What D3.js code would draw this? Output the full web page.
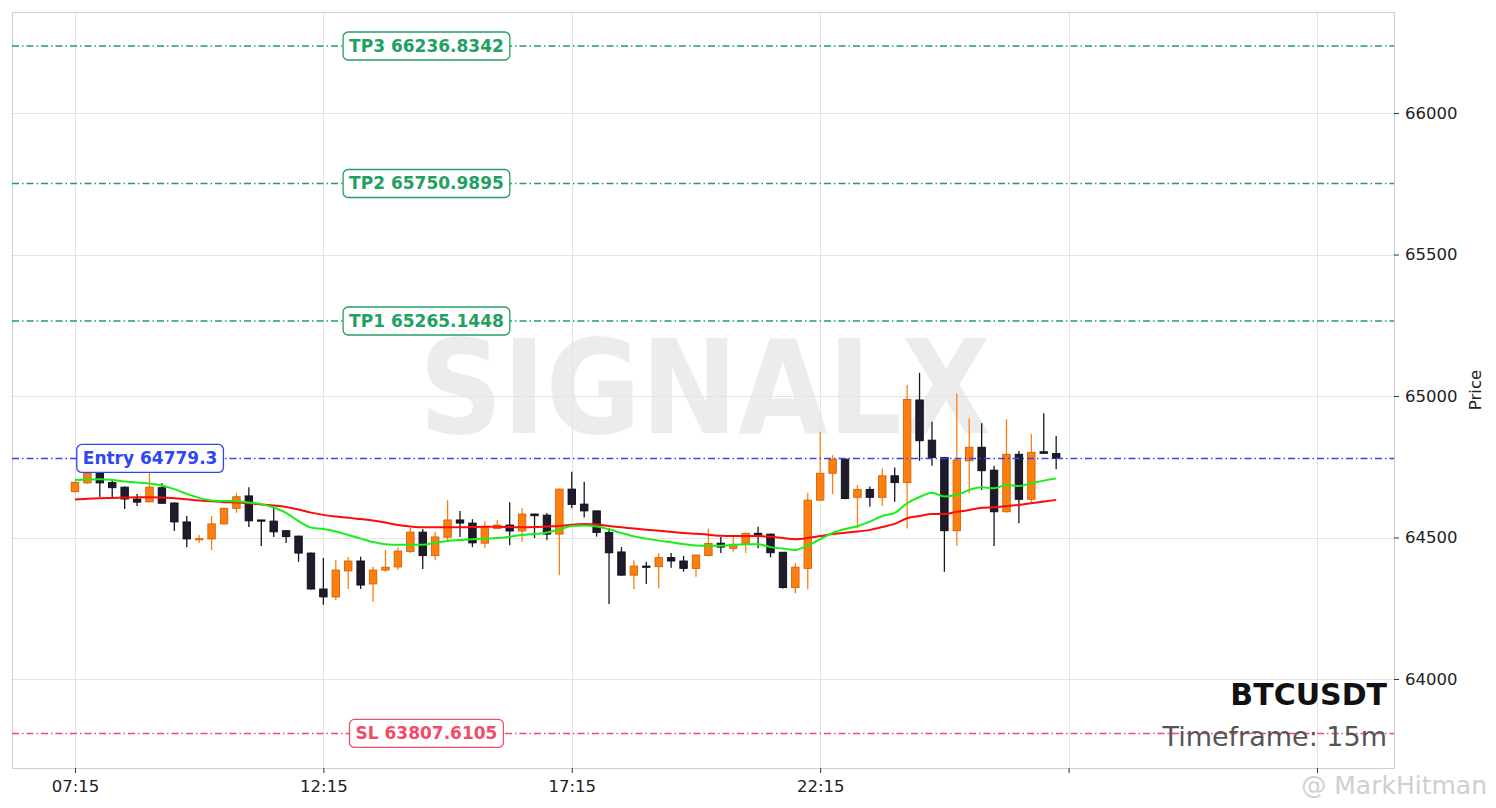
<!DOCTYPE html>
<html><head><meta charset="utf-8">
<script src="https://cdn.jsdelivr.net/npm/d3@7"></script>
<style>
html,body{margin:0;padding:0;background:#fff;}
svg{display:block;font-family:"DejaVu Sans",sans-serif;}
</style></head>
<body><svg id="chart" width="1496" height="808"></svg>
<script>
// ---- data ----
const symbol = "BTCUSDT";
const timeframe = "Timeframe: 15m";
const watermark = "SIGNALX";
const credit = "@ MarkHitman";

const xTickIndex = [0, 20, 40, 60, 80, 100];
const xTickLabels = ["07:15", "12:15", "17:15", "22:15", "", ""];
const yTicks = [64000, 64500, 65000, 65500, 66000];

const open = [64662,64693,64728,64694,64678,64636,64626,64676,64622,64555,
  64494,64495,64548,64603,64647,64562,64558,64524,64505,64445,
  64318,64290,64382,64417,64336,64385,64396,64451,64519,64436,
  64501,64562,64551,64480,64532,64544,64523,64583,64579,64512,
  64671,64618,64594,64518,64449,64367,64399,64397,64429,64417,
  64391,64436,64480,64462,64479,64515,64512,64448,64323,64391,
  64632,64727,64777,64642,64670,64642,64718,64694,64986,64844,
  64783,64524,64771,64819,64738,64591,64794,64635,64803,64797];
const high = [64698,64735,64735,64707,64680,64654,64730,64693,64624,64576,
  64509,64576,64606,64657,64678,64563,64604,64525,64506,64447,
  64428,64420,64431,64432,64397,64456,64466,64534,64530,64520,
  64632,64594,64565,64558,64562,64625,64604,64584,64587,64673,
  64732,64697,64595,64534,64466,64420,64414,64445,64445,64435,
  64440,64532,64502,64509,64517,64538,64514,64449,64409,64658,
  64874,64791,64779,64685,64680,64744,64747,65039,65082,64909,
  64785,65009,64921,64904,64754,64918,64806,64865,64939,64859];
const low = [64658,64690,64643,64643,64601,64611,64624,64619,64523,64466,
  64481,64456,64546,64587,64537,64470,64502,64481,64414,64316,
  64262,64279,64318,64318,64272,64379,64385,64445,64389,64420,
  64491,64502,64466,64464,64530,64473,64485,64498,64491,64367,
  64603,64571,64503,64265,64366,64317,64336,64320,64393,64379,
  64361,64434,64445,64450,64445,64462,64430,64320,64303,64317,
  64630,64654,64635,64532,64609,64611,64626,64532,64771,64754,
  64379,64471,64656,64668,64470,64588,64550,64623,64797,64741];
const close = [64695,64728,64693,64676,64636,64625,64678,64621,64555,64495,
  64496,64548,64603,64644,64559,64558,64520,64503,64445,64318,
  64290,64385,64417,64332,64385,64395,64452,64519,64436,64502,
  64562,64551,64481,64535,64544,64523,64583,64577,64512,64671,
  64617,64594,64518,64446,64367,64399,64398,64429,64417,64391,
  64438,64479,64466,64476,64515,64509,64446,64323,64395,64632,
  64727,64776,64638,64670,64642,64718,64694,64988,64842,64783,
  64524,64774,64819,64736,64591,64794,64635,64801,64797.5,64780];

// fast (green) and slow (red) moving averages
const maFast = [64703,64705,64706,64703,64698,64694,64691,64684,64671,64654,
  64640,64631,64629,64628,64624,64618,64606,64587,64558,64535,
  64530,64521,64509,64496,64484,64476,64474,64474,64474,64482,
  64488,64491,64494,64496,64498,64503,64509,64512,64518,64528,
  64541,64542,64539,64529,64516,64504,64496,64489,64483,64477,
  64472,64471,64471,64474,64476,64476,64466,64461,64456,64472,
  64494,64516,64530,64540,64556,64576,64587,64621,64643,64658,
  64645,64650,64668,64678,64674,64686,64682,64692,64701,64709];
const maSlow = [64634,64637,64639,64640,64641,64642,64642,64641,64639,64635,
  64631,64628,64625,64624,64621,64617,64613,64608,64599,64588,
  64580,64574,64570,64565,64560,64553,64544,64539,64536,64536,
  64536,64536,64537,64538,64538,64537,64536,64537,64539,64541,
  64545,64548,64546,64541,64536,64532,64527,64524,64520,64516,
  64513,64510,64506,64505,64505,64505,64503,64498,64494,64498,
  64505,64512,64517,64521,64527,64537,64548,64568,64576,64583,
  64583,64591,64597,64605,64607,64611,64615,64621,64627,64633];

const levelNames = ["TP3", "TP2", "TP1", "Entry", "SL"];
const levelValues = [66236.8342, 65750.9895, 65265.1448, 64779.3, 63807.6105];
const levelText = ["66236.8342", "65750.9895", "65265.1448", "64779.3", "63807.6105"];
const levelColors = ["#22a062", "#22a062", "#22a062", "#2e48f0", "#f24d68"];
const levelLabelIndex = [28.3, 28.3, 28.3, 6.05, 28.3];

// ---- layout ----
const L = 12, T = 12, R = 1394, B = 768;
const svg = d3.select("#chart");
const x = d3.scaleLinear().domain([-5.07, 106.2]).range([L, R]);
const y = d3.scaleLinear().domain([63685.5, 66357]).range([B, T]);
const step = x(1) - x(0);
const bodyW = step * 0.6;

// watermark
svg.append("text")
  .attr("transform", `translate(${(L + R) / 2 + 2},433) scale(1,1.12)`)
  .attr("text-anchor", "middle")
  .attr("font-weight", "bold").attr("font-size", 116)
  .attr("fill", "#e9e9e9").attr("opacity", 0.85)
  .text(watermark);

// grid
const grid = svg.append("g").attr("stroke", "#e3e3e3").attr("stroke-width", 1);
yTicks.forEach(v => grid.append("line").attr("x1", L).attr("x2", R)
  .attr("y1", Math.round(y(v)) + 0.5).attr("y2", Math.round(y(v)) + 0.5));
xTickIndex.forEach(i => grid.append("line").attr("y1", T).attr("y2", B)
  .attr("x1", Math.round(x(i)) + 0.5).attr("x2", Math.round(x(i)) + 0.5));

// frame
svg.append("rect").attr("x", L + 0.5).attr("y", T + 0.5)
  .attr("width", R - L).attr("height", B - T)
  .attr("fill", "none").attr("stroke", "#cfcfcf").attr("stroke-width", 1);

// axes
const yAxis = d3.axisRight(y).tickValues(yTicks).tickSize(5).tickPadding(6).tickFormat(d3.format("d"));
const gy = svg.append("g").attr("transform", `translate(${R},0)`).call(yAxis);
gy.select(".domain").remove();
gy.selectAll("text").attr("font-size", 16.5).attr("fill", "#222").attr("font-family", "DejaVu Sans");
gy.selectAll("line").attr("stroke", "#333");

const xAxis = d3.axisBottom(x).tickValues(xTickIndex).tickSize(5).tickPadding(7)
  .tickFormat((d, i) => xTickLabels[i]);
const gx = svg.append("g").attr("transform", `translate(0,${B})`).call(xAxis);
gx.select(".domain").remove();
gx.selectAll("text").attr("font-size", 16.5).attr("fill", "#222").attr("font-family", "DejaVu Sans");
gx.selectAll("line").attr("stroke", "#333");

svg.append("text").attr("transform", `translate(1481,${(T + B) / 2}) rotate(-90)`)
  .attr("text-anchor", "middle").attr("font-size", 16.5).attr("fill", "#222").text("Price");

// candles
const candles = d3.range(open.length).map(i => ({i, o: open[i], h: high[i], l: low[i], c: close[i]}));
const cg = svg.append("g");
candles.forEach(d => {
  const up = d.c >= d.o;
  const fill = up ? "#ff7f0e" : "#1f1a2c";
  const edge = up ? "#d2620a" : "#0d0b14";
  const wick = up ? "#ff7f0e" : "#1a1625";
  const cx = x(d.i);
  cg.append("line").attr("x1", cx).attr("x2", cx).attr("y1", y(d.h)).attr("y2", y(d.l))
    .attr("stroke", wick).attr("stroke-width", 1.3);
  const top = y(Math.max(d.o, d.c)), bot = y(Math.min(d.o, d.c));
  cg.append("rect").attr("x", cx - bodyW / 2).attr("y", top)
    .attr("width", bodyW).attr("height", Math.max(1.2, bot - top))
    .attr("fill", fill).attr("stroke", edge).attr("stroke-width", 0.9);
});

// moving averages
const line = arr => d3.line().x((d, i) => x(i)).y(d => y(d)).curve(d3.curveMonotoneX)(arr);
svg.append("path").attr("d", line(maSlow)).attr("fill", "none").attr("stroke", "#ff0a0a").attr("stroke-width", 2);
svg.append("path").attr("d", line(maFast)).attr("fill", "none").attr("stroke", "#1aee1a").attr("stroke-width", 2);

// levels
levelValues.forEach((v, k) => {
  const yy = y(v);
  svg.append("line").attr("x1", L).attr("x2", R).attr("y1", yy).attr("y2", yy)
    .attr("stroke", levelColors[k]).attr("stroke-width", 1.4)
    .attr("stroke-dasharray", "7,3,1.5,3");
  const g = svg.append("g");
  const t = g.append("text").attr("x", x(levelLabelIndex[k])).attr("y", yy)
    .attr("text-anchor", "middle").attr("dominant-baseline", "central")
    .attr("font-weight", "bold").attr("font-size", 17).attr("fill", levelColors[k])
    .text(levelNames[k] + " " + levelText[k]);
  const bb = t.node().getBBox();
  g.insert("rect", "text").attr("x", bb.x - 6).attr("y", yy - 14)
    .attr("width", bb.width + 12).attr("height", 28).attr("rx", 5).attr("ry", 5)
    .attr("fill", "#fff").attr("stroke", levelColors[k]).attr("stroke-width", 1.3);
});

// symbol & timeframe
svg.append("text").attr("x", 1387).attr("y", 705).attr("text-anchor", "end")
  .attr("font-weight", "bold").attr("font-size", 30).attr("fill", "#111").text(symbol);
svg.append("text").attr("x", 1387).attr("y", 746).attr("text-anchor", "end")
  .attr("font-size", 27).attr("fill", "#555").text(timeframe);

// credit overlay
svg.append("text").attr("x", 1487).attr("y", 794).attr("text-anchor", "end")
  .attr("font-size", 25).attr("fill", "#c4c4c4").attr("opacity", 0.8).text(credit);
</script>
</body></html>
